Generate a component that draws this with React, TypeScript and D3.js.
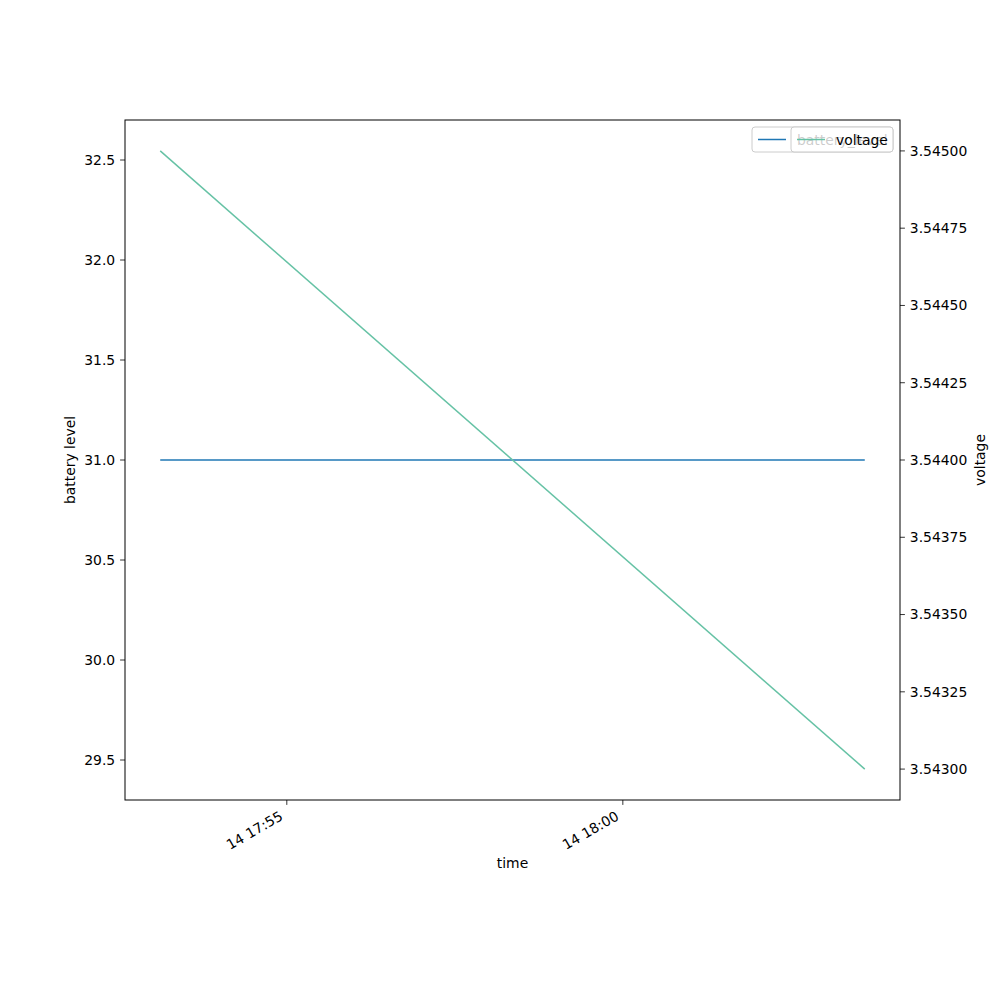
import React from "react";
import * as d3 from "d3";

const times = [new Date(2024, 0, 14, 17, 53, 7), new Date(2024, 0, 14, 18, 3, 36)];
const batteryLevel = [31, 31];
const voltage = [3.545, 3.543];
const leftTicks = [29.5, 30.0, 30.5, 31.0, 31.5, 32.0, 32.5];
const rightTicks = [3.543, 3.54325, 3.5435, 3.54375, 3.544, 3.54425, 3.5445, 3.54475, 3.545];
const xTicks = [new Date(2024, 0, 14, 17, 55, 0), new Date(2024, 0, 14, 18, 0, 0)];

const W = 1000, H = 1000;
const L = 125, R = 900, T = 120, B = 800;
const FONT = "DejaVu Sans, sans-serif";
const FS = 13.9;

export default function App() {
  const t0 = +times[0], t1 = +times[times.length - 1];
  const pad = (t1 - t0) * 0.05;
  const x = d3.scaleTime().domain([new Date(t0 - pad), new Date(t1 + pad)]).range([L, R]);
  const yL = d3.scaleLinear().domain([29.3, 32.7]).range([B, T]);
  const vMin = 3.543, vMax = 3.545, vp = (vMax - vMin) * 0.05;
  const yR = d3.scaleLinear().domain([vMin - vp, vMax + vp]).range([B, T]);

  const lineB = d3.line<number>().x((_, i) => x(times[i])).y((d) => yL(d));
  const lineV = d3.line<number>().x((_, i) => x(times[i])).y((d) => yR(d));
  const fmtX = d3.timeFormat("%d %H:%M");

  const legTop = T + 7, legH = 25, legRight = R - 7;
  const leg1Left = 752, leg2Left = 791;
  const legY = legTop + 12.5;

  return (
    <svg width={W} height={H} style={{ display: "block", position: "absolute", left: 0, top: 0 }} fontFamily={FONT}>
      <rect x={0} y={0} width={W} height={H} fill="white" />
      <path d={lineB(batteryLevel) || ""} fill="none" stroke="#1f77b4" strokeWidth={1.5} />
      <rect x={leg1Left} y={legTop} width={legRight - leg1Left} height={legH} rx={3} fill="white" fillOpacity={0.8} stroke="#cccccc" strokeWidth={1} />
      <line x1={leg1Left + 6} x2={leg1Left + 34} y1={legY} y2={legY} stroke="#1f77b4" strokeWidth={1.5} />
      <text x={leg1Left + 45} y={legY + 5} fontSize={FS} fill="black">battery_level</text>
      <path d={lineV(voltage) || ""} fill="none" stroke="#66c2a5" strokeWidth={1.5} />
      <rect x={leg2Left} y={legTop} width={legRight - leg2Left} height={legH} rx={3} fill="white" fillOpacity={0.8} stroke="#cccccc" strokeWidth={1} />
      <line x1={leg2Left + 6} x2={leg2Left + 34} y1={legY} y2={legY} stroke="#66c2a5" strokeWidth={1.5} />
      <text x={leg2Left + 45} y={legY + 5} fontSize={FS} fill="black">voltage</text>

      <rect x={L} y={T} width={R - L} height={B - T} fill="none" stroke="black" strokeWidth={1} />

      {leftTicks.map((v) => (
        <g key={"l" + v}>
          <line x1={L - 4.9} x2={L} y1={yL(v)} y2={yL(v)} stroke="black" strokeWidth={0.8} />
          <text x={L - 9.8} y={yL(v)} dy="0.35em" textAnchor="end" fontSize={FS}>{v.toFixed(1)}</text>
        </g>
      ))}
      {rightTicks.map((v) => (
        <g key={"r" + v}>
          <line x1={R} x2={R + 4.9} y1={yR(v)} y2={yR(v)} stroke="black" strokeWidth={0.8} />
          <text x={R + 9.8} y={yR(v)} dy="0.35em" textAnchor="start" fontSize={FS}>{v.toFixed(5)}</text>
        </g>
      ))}
      {xTicks.map((d) => (
        <g key={+d}>
          <line x1={x(d)} x2={x(d)} y1={B} y2={B + 4.9} stroke="black" strokeWidth={0.8} />
          <text transform={`translate(${x(d) - 3},${B + 19}) rotate(-30)`} textAnchor="end" fontSize={FS}>{fmtX(d)}</text>
        </g>
      ))}

      <text x={(L + R) / 2} y={868} textAnchor="middle" fontSize={FS}>time</text>
      <text transform={`translate(75,${(T + B) / 2}) rotate(-90)`} textAnchor="middle" fontSize={FS}>battery level</text>
      <text transform={`translate(985,${(T + B) / 2}) rotate(-90)`} textAnchor="middle" fontSize={FS}>voltage</text>
    </svg>
  );
}
